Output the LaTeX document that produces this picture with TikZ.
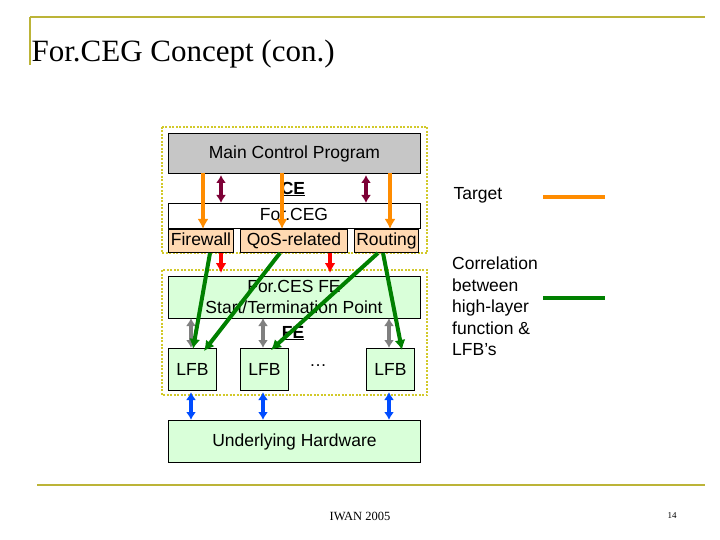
\documentclass[tikz,border=0pt]{standalone}
\usepackage{fontspec}
\usetikzlibrary{arrows.meta}
\setmainfont{Liberation Sans}
\newfontfamily\tnr{Liberation Serif}
\begin{document}
\begin{tikzpicture}[x=1pt,y=-1pt,
 box/.style={draw=black,line width=1pt,minimum height=#1,inner sep=0pt,font=\fontsize{17.5}{21}\selectfont},
 grn/.style={box=42,fill=green!15!white},
 peach/.style={box=23,fill=orange!30!white,text height=12.5pt,text depth=4pt},
 dotbox/.style={draw=yellow!80!black,line width=2.5pt,dash pattern=on 2pt off 1.5pt},
 arr/.style={-{Latex[length=10pt,width=11pt]},line width=4pt},
 darr/.style={{Latex[length=8pt,width=10pt]}-{Latex[length=8pt,width=10pt]},line width=4pt},
 lbl/.style={font=\fontsize{17.5}{21.5}\selectfont}]
\useasboundingbox (0,0) rectangle (720,540);
\draw[yellow!70!black,line width=1.2pt] (30,17) -- (705,17) (30,17) -- (30,65) (37,485) -- (705,485);
\node[anchor=base west,font=\tnr\fontsize{31}{34}\selectfont] (title) at (28,62) {For.CEG Concept (con.)};
\node[font=\tnr\fontsize{12.5}{14}\selectfont] (iwan) at (360,516) {IWAN 2005};
\node[font=\tnr\fontsize{9}{10}\selectfont] (pg) at (672,516) {14};
% boxes
\draw[dotbox] (162,127) rectangle (427,253);
\draw[dotbox] (162,270) rectangle (427,395);
\node[box=40,minimum width=252,fill=gray!45,anchor=north west] (mcp) at (168,133) {Main Control Program};
\node[box=25,minimum width=252,fill=white,anchor=north west] (fceg) at (168,203) {};
\node[lbl] at (294,214) {For.CEG};
\node[peach,minimum width=65,anchor=north west] (fw) at (168,229) {Firewall};
\node[peach,minimum width=107,anchor=north west] (qos) at (240,229) {QoS-related};
\node[peach,minimum width=64,anchor=north west] (rt) at (354,229) {Routing};
\node[lbl,font=\bfseries\fontsize{17.5}{21}\selectfont] (ce) at (293,189) {\underline{CE}};
\node[grn,minimum width=252,anchor=north west,align=center] (fe) at (168,276) {};
\node[lbl,align=center] (fetxt) at (294,297) {For.CES FE\\Start/Termination Point};
\node[lbl,font=\bfseries\fontsize{17.5}{21}\selectfont] (fel) at (293,333) {\underline{FE}};
\node[grn,minimum width=48,anchor=north west] (l1) at (168,348) {LFB};
\node[grn,minimum width=48,anchor=north west] (l2) at (240,348) {LFB};
\node[grn,minimum width=48,anchor=north west] (l3) at (366,348) {LFB};
\node[lbl] (dots) at (318,366) {\dots};
\node[grn,minimum width=252,anchor=north west] (hw) at (168,420) {Underlying Hardware};
% arrows
\foreach \x in {203,282,390} \draw[arr,orange!90!yellow] (\x,173) -- (\x,229);
\foreach \x in {221,366} \draw[darr,violet!60!red!70!black] (\x,175) -- (\x,203);
\foreach \x in {221,330} \draw[arr,red] (\x,253) -- (\x,273);
\foreach \x in {191,263,389} {\draw[darr,gray] (\x,318) -- (\x,348); \draw[darr,blue!70!cyan] (\x,392) -- (\x,420);}
\draw[arr,green!50!black] (210,253) -- (193,349);
\draw[arr,green!50!black] (280,253) -- (204,351);
\draw[arr,green!50!black] (378,253) -- (271,350);
\draw[arr,green!50!black] (383,253) -- (402,350);
% legend
\node[lbl,anchor=west] (tg) at (450,195) {Target};
\draw[orange!90!yellow,line width=3.5pt] (543,197) -- (605,197);
\node[lbl,anchor=north west,align=left,inner sep=1pt] (corr) at (451,256) {Correlation\\between\\high-layer\\function \&\\LFB's};
\draw[green!50!black,line width=3.5pt] (543,298) -- (605,298);
\end{tikzpicture}
\end{document}
